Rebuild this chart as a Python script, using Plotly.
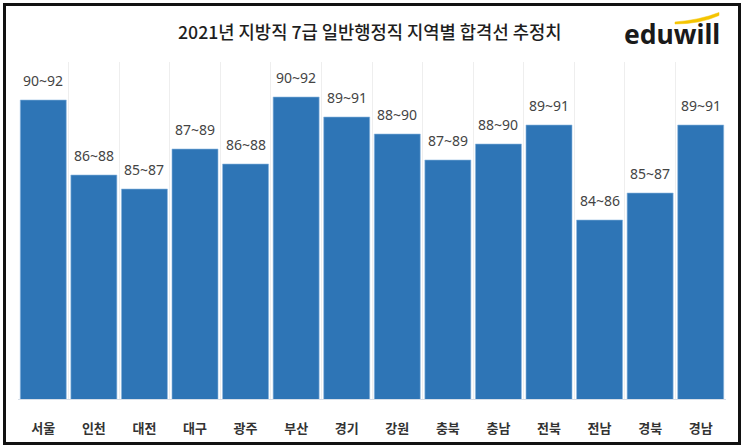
import plotly.graph_objects as go

regions = ["서울", "인천", "대전", "대구", "광주", "부산", "경기", "강원", "충북", "충남", "전북", "전남", "경북", "경남"]
range_labels = ["90~92", "86~88", "85~87", "87~89", "86~88", "90~92", "89~91", "88~90",
                "87~89", "88~90", "89~91", "84~86", "85~87", "89~91"]
bar_values = [89.95, 86.2, 85.5, 87.5, 86.75, 90.1, 89.1, 88.25, 86.95, 87.75, 88.7, 83.95, 85.3, 88.7]

W, H = 743, 448
L, R, T, B = 18, 726, 62, 399


def px(x):
    return (x - L) / (R - L)


def py(y):
    return (B - y) / (B - T)


fig = go.Figure()
fig.add_trace(go.Bar(
    x=regions, y=bar_values,
    marker=dict(color="#2E75B6", line=dict(color="#8FB8E0", width=0.6)),
    hoverinfo="skip",
))

for r, v, t in zip(regions, bar_values, range_labels):
    fig.add_annotation(x=r, y=v, text=t, showarrow=False, yanchor="middle", yshift=20,
                       font=dict(family="Noto Sans, Noto Sans CJK KR", size=14, color="#444444"))

# title
fig.add_annotation(xref="paper", yref="paper", x=px(369), y=py(31), xanchor="center", yanchor="middle",
                   text="2021년 지방직 7급 일반행정직 지역별 합격선 추정치", showarrow=False,
                   font=dict(family="Noto Sans CJK KR", size=17.7, color="#1e1e1e", weight=500))
# logo text
fig.add_annotation(xref="paper", yref="paper", x=px(671.5), y=py(34), xanchor="center", yanchor="middle",
                   text="<b>eduwill</b>", showarrow=False,
                   font=dict(family="Noto Sans", size=26.5, color="#1a1a1a"))

# logo swoosh
path = "M {:.5f},{:.5f} Q {:.5f},{:.5f} {:.5f},{:.5f} L {:.5f},{:.5f} Q {:.5f},{:.5f} {:.5f},{:.5f} Z".format(
    px(675), py(22), px(700), py(20), px(719), py(12.5),
    px(719), py(15.5), px(700), py(24), px(675), py(24))
fig.add_shape(type="path", xref="paper", yref="paper", path=path,
              fillcolor="#F5C400", line=dict(color="#F5C400", width=0.5))

# frame
fig.add_shape(type="rect", xref="paper", yref="paper",
              x0=px(4.5), x1=px(739.5), y0=py(443.5), y1=py(4.5),
              line=dict(color="#111111", width=3))

fig.update_layout(
    width=W, height=H,
    margin=dict(l=L, r=W - R, t=T, b=H - B),
    paper_bgcolor="white", plot_bgcolor="white",
    bargap=0.09, showlegend=False,
    xaxis=dict(type="category", tickson="boundaries", showgrid=True, gridcolor="#EEEEEE", gridwidth=1,
               ticks="", ticklabelstandoff=17, showline=True, linecolor="#D6DEE8", linewidth=1,
               tickfont=dict(family="Noto Sans CJK KR", size=13, color="#333333", weight="bold"),
               range=[-0.5, 13.5], fixedrange=True),
    yaxis=dict(range=[75, 91.85], showgrid=False, showticklabels=False, zeroline=False, visible=False),
)

fig.write_html("out.html")
